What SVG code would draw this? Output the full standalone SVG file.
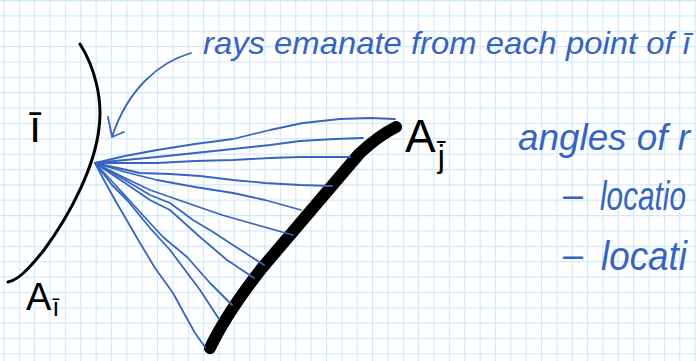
<svg xmlns="http://www.w3.org/2000/svg" width="696" height="361" viewBox="0 0 696 361">
<style>
.ink{fill:none;stroke:#000;stroke-linecap:round;stroke-linejoin:round}
.ray{fill:none;stroke:#3764c0;stroke-width:1.8;stroke-linecap:round;stroke-linejoin:round}
.blue{fill:#3764c0;font-family:"Liberation Sans",sans-serif;font-style:italic}
.blk{fill:#000;font-family:"Liberation Sans",sans-serif}
</style>
<defs>
<pattern id="grid" patternUnits="userSpaceOnUse" x="3.4" y="0" width="15.36" height="15.36">
<path d="M0.5 0 V15.36 M0 0.5 H15.36" fill="none" stroke="#cfe7f9" stroke-width="1.2"/>
</pattern>
</defs>
<rect width="696" height="361" fill="#fff"/>
<rect width="696" height="361" fill="url(#grid)"/>

<g id="surface-i">
<path class="ink" stroke-width="3" d="M80,44 C94,66 103,98 99,128 C95,165 72,212 44,250 C28,270 18,280 8,282"/>
<text class="blk" x="29" y="142" font-size="44" font-family="DejaVu Sans" font-weight="normal">ī</text>
<text class="blk" x="26" y="310" font-size="38">A<tspan dx="1" dy="6" font-size="26">ī</tspan></text>
</g>

<g id="surface-j">
<path class="ink" stroke-width="12" d="M396,127 Q378,136 359,154 L262,268 Q226,314 210,348"/>
<text class="blk" x="405" y="152" font-size="46">A<tspan dx="2" dy="15" font-size="32">j̄</tspan></text>
</g>

<g id="connectors">
<path class="ray" d="M95,163 L125,156 L157,150 L195,144 L233,139 L270,130 L303,123 L340,119 L370,118 L395,119"/>
<path class="ray" d="M95,163 L125,160 L157,157 L195,153 L233,149 L270,145 L300,141 L335,139 L363,138"/>
<path class="ray" d="M95,163 L125,163 L157,163 L195,161 L233,160 L270,158 L300,157 L330,157 L350,157"/>
<path class="ray" d="M95,163 L118,168 L140,173 L170,174 L200,176 L233,180 L265,183 L300,185 L332,186"/>
<path class="ray" d="M95,163 L125,172 L157,180 L195,187 L233,193 L265,200 L301,210"/>
<path class="ray" d="M95,163 L125,178 L150,190 L193,205 L222,215 L250,223 L275,230 L293,235"/>
<path class="ray" d="M95,163 L125,180 L150,195 L170,203 L193,220 L213,232 L233,245 L250,256 L264,265"/>
<path class="ray" d="M95,163 L125,183 L150,200 L170,210 L200,237 L227,260 L254,278"/>
<path class="ray" d="M95,163 L120,190 L150,223 L163,237 L187,257 L210,283 L232,305"/>
<path class="ray" d="M95,163 L112,185 L127,200 L150,228 L170,250 L185,270 L200,290 L219,319"/>
<path class="ray" d="M95,163 L105,182 L115,200 L140,243 L155,268 L173,293 L185,315 L195,333 L205,347"/>
<path class="ray" stroke-width="2.2" d="M191,53 C160,62 128,88 112,137 M108,117 L112,137 L124,132"/>
</g>

<g id="notes">
<text class="blue" x="203" y="54" font-size="32" textLength="487" lengthAdjust="spacingAndGlyphs">rays emanate from each point of ī</text>
<text class="blue" x="518" y="150" font-size="36" textLength="172" lengthAdjust="spacingAndGlyphs">angles of r</text>
<text class="blue" x="563" y="207" font-size="36" textLength="20" lengthAdjust="spacingAndGlyphs">–</text>
<text class="blue" x="600" y="210" font-size="40" textLength="86" lengthAdjust="spacingAndGlyphs">locatio</text>
<text class="blue" x="563" y="267" font-size="36" textLength="20" lengthAdjust="spacingAndGlyphs">–</text>
<text class="blue" x="601" y="270" font-size="40" textLength="86" lengthAdjust="spacingAndGlyphs">locati</text>
</g>
</svg>
